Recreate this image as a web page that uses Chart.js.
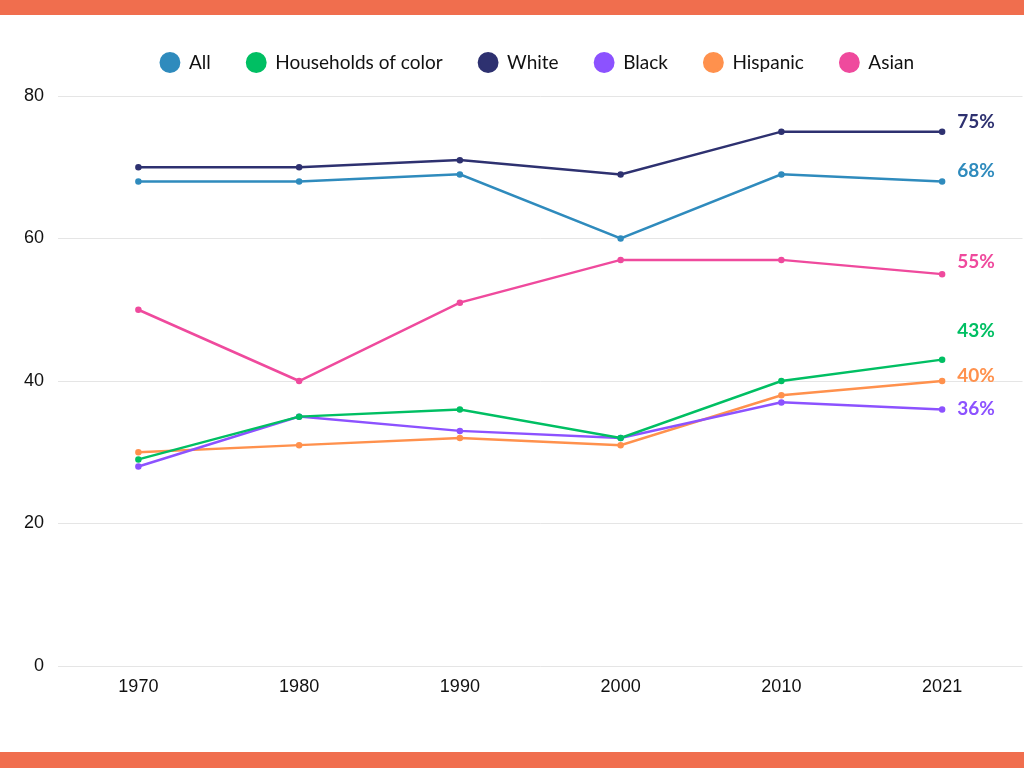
<!DOCTYPE html>
<html>
<head>
<meta charset="utf-8">
<script src="https://cdn.jsdelivr.net/npm/chart.js@4/dist/chart.umd.min.js"></script>
<style>
  html, body { margin: 0; padding: 0; background: #fff; }
  body { width: 1024px; height: 768px; position: relative; overflow: hidden; }
  .bar { position: absolute; left: 0; width: 1024px; background: #f06e4e; z-index: 2; }
  #top { top: 0; height: 15px; }
  #bottom { top: 752px; height: 16px; }
  #wrap { position: absolute; left: 0; top: 15px; width: 1028px; height: 737px; }
</style>
</head>
<body>
<div class="bar" id="top"></div>
<div class="bar" id="bottom"></div>
<div id="wrap"><canvas id="c"></canvas></div>
<script>
const years = ["1970", "1980", "1990", "2000", "2010", "2021"];
const allHouseholds = [68, 68, 69, 60, 69, 68];
const householdsOfColor = [29, 35, 36, 32, 40, 43];
const white = [70, 70, 71, 69, 75, 75];
const black = [28, 35, 33, 32, 37, 36];
const hispanic = [30, 31, 32, 31, 38, 40];
const asian = [50, 40, 51, 57, 57, 55];
const yTicks = [0, 20, 40, 60, 80];

const colors = {
  all: "#2f8bbd",
  hoc: "#00bf63",
  white: "#2e3170",
  black: "#8c52ff",
  hispanic: "#ff914d",
  asian: "#ef4a9d"
};

// pixel offsets for end labels (style only)
const labelDy = { "All": -11, "Households of color": -29, "White": -10, "Black": -1, "Hispanic": -5, "Asian": -12 };

function ds(label, data, color) {
  return {
    label, data,
    borderColor: color, backgroundColor: color,
    pointBackgroundColor: color, pointBorderColor: color,
    borderWidth: 2.5, pointRadius: 2, pointHoverRadius: 3,
    tension: 0, fill: false
  };
}

const endLabels = {
  id: "endLabels",
  afterDatasetsDraw(chart) {
    const ctx = chart.ctx;
    ctx.save();
    ctx.font = "bold 19px Lato";
    ctx.textAlign = "left";
    ctx.textBaseline = "middle";
    chart.data.datasets.forEach((d, i) => {
      const meta = chart.getDatasetMeta(i);
      const pt = meta.data[meta.data.length - 1];
      ctx.fillStyle = d.borderColor;
      ctx.fillText(d.data[d.data.length - 1] + "%", pt.x + 15, pt.y + (labelDy[d.label] || 0));
    });
    ctx.restore();
  }
};

const legendFit = {
  id: "legendFit",
  beforeUpdate(chart) {
    const lg = chart.legend;
    if (lg && !lg._patched) {
      const origFit = lg.fit;
      lg.fit = function () { origFit.call(this); this.height = 79; };
      const origDraw = lg.draw;
      lg.draw = function () {
        const ca = chart.chartArea;
        const shift = (ca.left + ca.right) / 2 - (this.left + this.right) / 2 - 3;
        const ctx = this.ctx;
        ctx.save();
        ctx.translate(shift, 0);
        origDraw.call(this);
        ctx.restore();
      };
      lg._patched = true;
    }
  }
};

new Chart(document.getElementById("c"), {
  type: "line",
  data: {
    labels: years,
    datasets: [
      ds("All", allHouseholds, colors.all),
      ds("Households of color", householdsOfColor, colors.hoc),
      ds("White", white, colors.white),
      ds("Black", black, colors.black),
      ds("Hispanic", hispanic, colors.hispanic),
      ds("Asian", asian, colors.asian)
    ]
  },
  options: {
    responsive: true,
    maintainAspectRatio: false,
    animation: false,
    layout: { padding: { top: 2, right: 0, left: 0, bottom: 0 } },
    plugins: {
      legend: {
        position: "top",
        align: "center",
        labels: {
          usePointStyle: true,
          pointStyle: "circle",
          boxWidth: 19,
          boxHeight: 13,
          padding: 36,
          color: "#111",
          font: { family: "Lato", size: 19 }
        }
      },
      tooltip: { enabled: false }
    },
    scales: {
      x: {
        offset: true,
        grid: { display: false, drawTicks: false },
        border: { display: false },
        ticks: { color: "#111", padding: 10, font: { family: "Liberation Sans", size: 18 } },
        afterFit(scale) { scale.height = 86; }
      },
      y: {
        min: 0, max: 80,
        afterBuildTicks(scale) { scale.ticks = yTicks.map(v => ({ value: v })); },
        grid: { color: "#e5e5e5", lineWidth: 1, drawTicks: false },
        border: { display: false },
        ticks: { color: "#111", padding: 14, font: { family: "Liberation Sans", size: 18 } },
        afterFit(scale) { scale.width = 58; }
      }
    }
  },
  plugins: [legendFit, endLabels]
});
</script>
</body>
</html>
